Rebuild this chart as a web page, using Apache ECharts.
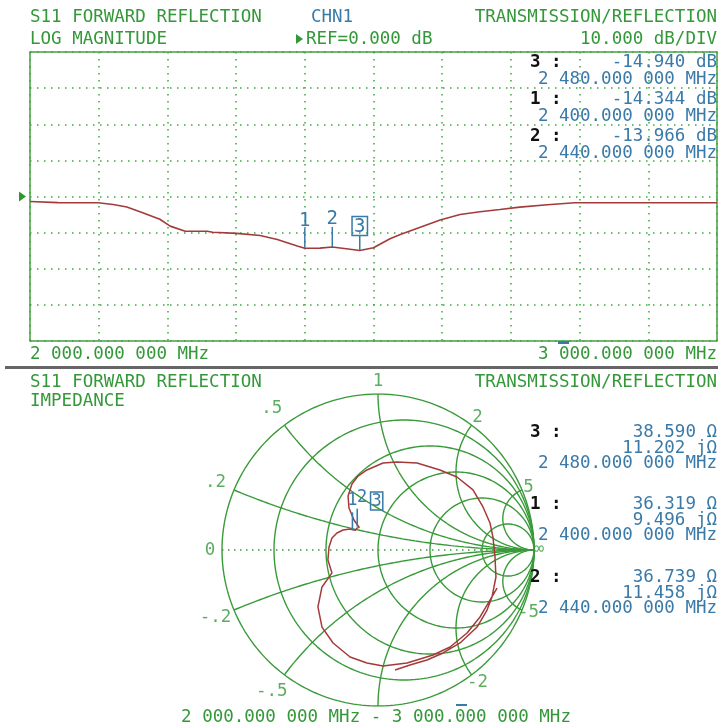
<!DOCTYPE html>
<html><head><meta charset="utf-8">
<script src="https://cdn.jsdelivr.net/npm/echarts@6/dist/echarts.min.js"></script>
<style>html,body{margin:0;padding:0;background:#fff}#c{width:718px;height:727px}</style>
</head><body><div id="c"></div>
<script>
// ---------------- DATA ----------------
// Log-magnitude trace (S11, dB) vs frequency (MHz)
const freqMHz = [2000,2041,2099,2121,2141,2164,2189,2204,2226,2258,2266,2301,2335,2360,2389,2400,2422,2440,2466,2480,2500,2524,2539,2568,2597,2626,2655,2684,2713,2753,2793,3000];
const logMagDb = [-1.4,-1.7,-1.75,-2.2,-2.9,-4.5,-6.3,-8.2,-9.6,-9.6,-9.9,-10.2,-10.8,-11.9,-13.7,-14.344,-14.3,-13.966,-14.6,-14.94,-14.2,-11.7,-10.5,-8.5,-6.5,-5.0,-4.2,-3.6,-2.95,-2.3,-1.75,-1.75];
// Smith chart trace: reflection coefficient (real, imag), 2000 -> 3000 MHz
const gammaRe = [0.763,0.718,0.654,0.571,0.462,0.353,0.186,0.032,-0.071,-0.179,-0.288,-0.359,-0.385,-0.359,-0.295,-0.321,-0.314,-0.295,-0.263,-0.224,-0.179,-0.145,-0.135,-0.133,-0.12,-0.111,-0.154,-0.186,-0.192,-0.167,-0.128,-0.071,0.032,0.122,0.25,0.397,0.506,0.609,0.673,0.718,0.737,0.75,0.756,0.731,0.699,0.635,0.526,0.417,0.314,0.205,0.109];
const gammaIm = [-0.244,-0.321,-0.429,-0.532,-0.622,-0.673,-0.724,-0.744,-0.724,-0.686,-0.596,-0.494,-0.365,-0.237,-0.147,-0.064,0.019,0.077,0.109,0.128,0.135,0.126,0.14,0.150,0.145,0.1405,0.192,0.269,0.346,0.423,0.474,0.513,0.558,0.564,0.558,0.513,0.468,0.385,0.276,0.173,0.083,-0.045,-0.173,-0.301,-0.385,-0.494,-0.596,-0.66,-0.705,-0.737,-0.769];
// Markers
const markerIds = [1, 2, 3];
const markerFreq = [2400, 2440, 2480];
const markerDb = [-14.344, -13.966, -14.940];
const markerR = [36.319, 36.739, 38.590];
const markerX = [9.496, 11.458, 11.202];
const readoutOrder = [3, 1, 2];
const activeMarker = 3;
const Z0 = 50;
// Axis ticks
const freqStart = 2000, freqStop = 3000, freqDiv = 100;
const dbMin = -40, dbMax = 40, dbDiv = 10;
const smithR = [0, 0.2, 0.5, 1, 2, 5];
const smithX = [0.2, 0.5, 1, 2, 5];

// ---------------- STYLE ----------------
const FONT = '"DejaVu Sans Mono", monospace';
const FS = 17.5;
const GREEN_T = '#34983a';
const GREEN_G = '#3aa83a';
const GREEN_S = '#399a39';
const BLUE = '#3a7aa8';
const TRACE = '#a33b3b';
const BLACK = '#111';
const labelGap = {'0.2':20,'0.5':21,'1':13,'2':10,'5':7};

function fmtFreq(mhz){
  const ip = Math.floor(mhz);
  const s = String(ip);
  const g = s.length > 3 ? s.slice(0, s.length-3) + ' ' + s.slice(-3) : s;
  const frac = String(Math.round((mhz-ip)*1e6)).padStart(6,'0');
  return g + '.' + frac.slice(0,3) + ' ' + frac.slice(3) + ' MHz';
}
function zToGamma(r, x){
  const zr = r/Z0, zx = x/Z0;
  const d = (zr+1)*(zr+1) + zx*zx;
  return [((zr-1)*(zr+1) + zx*zx)/d, (2*zx)/d];
}
function tickText(v){
  const a = Math.abs(v);
  return (v<0?'-':'') + (a<1 ? String(a).replace(/^0/,'') : String(a));
}

// Smith grid geometry
const smithSeries = [];
smithR.forEach(r => {
  const c = r/(1+r), a = 1/(1+r), pts = [];
  for (let i=0;i<=240;i++){ const t = i/240*2*Math.PI; pts.push([c + a*Math.cos(t), a*Math.sin(t)]); }
  smithSeries.push(pts);
});
smithX.forEach(xv => {
  [xv, -xv].forEach(x => {
    const pts = [];
    for (let i=0;i<=240;i++){
      const u = i/240*(Math.PI/2)*0.9995; const r = Math.tan(u);
      const d = (r+1)*(r+1) + x*x;
      pts.push([(r*r-1+x*x)/d, 2*x/d]);
    }
    smithSeries.push(pts);
  });
});

const lineBase = {type:'line', symbol:'none', silent:true, animation:false};
const series = [];
series.push(Object.assign({}, lineBase, {
  xAxisIndex:0, yAxisIndex:0, z:5,
  data: freqMHz.map((f,i)=>[f, logMagDb[i]]),
  lineStyle:{color:TRACE, width:1.6}
}));
series.push({
  type:'custom', xAxisIndex:0, yAxisIndex:0, silent:true, z:10, animation:false,
  data: markerIds.map((id,i)=>[markerFreq[i], markerDb[i], id]),
  renderItem(params, api){
    const p = api.coord([api.value(0), api.value(1)]);
    const id = api.value(2);
    const boxed = id === activeMarker;
    const stem = boxed ? 15 : 20;
    const st = {text:String(id), fill:BLUE, font:'19px '+FONT, align:'center', verticalAlign:'bottom'};
    if (boxed){ Object.assign(st, {borderColor:BLUE, borderWidth:1.5, padding:[1,2,-1,2]}); }
    return {type:'group', children:[
      {type:'line', shape:{x1:p[0], y1:p[1], x2:p[0], y2:p[1]-stem}, style:{stroke:BLUE, lineWidth:1.5}},
      {type:'text', x:p[0], y:p[1]-stem+ (boxed?0:2), style:st}
    ]};
  }
});
smithSeries.forEach(pts => series.push(Object.assign({}, lineBase, {
  xAxisIndex:1, yAxisIndex:1, z:2, data: pts, lineStyle:{color:GREEN_S, width:1.4}
})));
series.push(Object.assign({}, lineBase, {
  xAxisIndex:1, yAxisIndex:1, z:2, data:[[-1,0],[1,0]], lineStyle:{color:GREEN_S, width:1.3, type:[1.5,4.5]}
}));
series.push(Object.assign({}, lineBase, {
  xAxisIndex:1, yAxisIndex:1, z:5, data: gammaRe.map((g,i)=>[g, gammaIm[i]]),
  lineStyle:{color:TRACE, width:1.5}
}));
// Smith tick labels
const labelData = [];
smithX.forEach(xv => [xv, -xv].forEach(x => {
  const ang = Math.PI - 2*Math.atan(Math.abs(x));
  const k = 1 + labelGap[String(xv)]/156;
  if (x === -1) return;
  labelData.push({value:[k*Math.cos(ang), (x<0?-1:1)*k*Math.sin(ang)], name: tickText(x)});
}));
labelData.push({value:[-(1+12/156), 0], name:'0'});
labelData.push({value:[1+5/156, 0.005], name:'∞'});
series.push({
  type:'scatter', xAxisIndex:1, yAxisIndex:1, symbolSize:0, silent:true, animation:false, clip:false,
  data: labelData,
  label:{show:true, position:'inside', formatter:p=>p.name, color:GREEN_T, fontFamily:FONT, fontSize:FS}
});
// Smith markers
const smithLabelOff = {1:[-3,-30], 2:[5,-29], 3:[16,-27]};
series.push({
  type:'custom', xAxisIndex:1, yAxisIndex:1, silent:true, z:10, animation:false, clip:false,
  data: markerIds.map((id,i)=>{ const g = zToGamma(markerR[i], markerX[i]); return [g[0], g[1], id]; }),
  renderItem(params, api){
    const p = api.coord([api.value(0), api.value(1)]);
    const id = api.value(2);
    const off = smithLabelOff[id];
    const boxed = id === activeMarker;
    const st = {text:String(id), fill:BLUE, font:'17px '+FONT, align:'center', verticalAlign:'middle'};
    if (boxed){ Object.assign(st, {borderColor:BLUE, borderWidth:1.5, padding:[1,1,0,1]}); }
    const ch = [{type:'text', x:p[0]+off[0], y:p[1]+off[1], style:st}];
    if (!boxed) ch.push({type:'line', shape:{x1:p[0]+(id===1?-3:0), y1:p[1], x2:p[0]+(id===1?-3:0), y2:p[1]-18}, style:{stroke:BLUE, lineWidth:1.6}});
    return {type:'group', children:ch};
  }
});

// ---------------- TEXT / GRAPHIC ----------------
function T(x, y, text, fill, align, extra){
  return Object.assign({type:'text', x, y, silent:true, z:20, style:{text, fill, font:FS+'px '+FONT, align: align||'left', verticalAlign:'middle'}}, extra||{});
}
const graphics = [];
graphics.push(T(30, 17, 'S11 FORWARD REFLECTION', GREEN_T));
graphics.push(T(311, 17, 'CHN1', BLUE));
graphics.push(T(717, 17, 'TRANSMISSION/REFLECTION', GREEN_T, 'right'));
graphics.push(T(30, 39, 'LOG MAGNITUDE', GREEN_T));
graphics.push({type:'polygon', silent:true, shape:{points:[[296,34],[303,39],[296,44]]}, style:{fill:GREEN_T}});
graphics.push(T(306, 39, 'REF=0.000 dB', GREEN_T));
graphics.push(T(717, 39, (dbDiv).toFixed(3)+' dB/DIV', GREEN_T, 'right'));
graphics.push(T(30, 354, fmtFreq(freqStart), GREEN_T));
graphics.push(T(717, 354, fmtFreq(freqStop), GREEN_T, 'right'));
graphics.push({type:'rect', silent:true, shape:{x:558, y:341, width:11, height:3}, style:{fill:BLUE}});
graphics.push({type:'rect', silent:true, shape:{x:5, y:366, width:713, height:3}, style:{fill:'#666'}});
graphics.push(T(30, 382, 'S11 FORWARD REFLECTION', GREEN_T));
graphics.push(T(717, 382, 'TRANSMISSION/REFLECTION', GREEN_T, 'right'));
graphics.push(T(30, 401, 'IMPEDANCE', GREEN_T));
graphics.push(T(376, 717, fmtFreq(freqStart)+' - '+fmtFreq(freqStop), GREEN_T, 'center'));
graphics.push({type:'rect', silent:true, shape:{x:456, y:704, width:11, height:2}, style:{fill:BLUE}});
// readouts
readoutOrder.forEach((id, k) => {
  const i = markerIds.indexOf(id);
  const y1 = 62 + k*37;
  graphics.push(T(530, y1, id+' :', BLACK, 'left', {style:{text:id+' :', fill:BLACK, font:'bold '+FS+'px '+FONT, align:'left', verticalAlign:'middle'}}));
  graphics.push(T(717, y1, markerDb[i].toFixed(3)+' dB', BLUE, 'right'));
  graphics.push(T(717, y1+17, fmtFreq(markerFreq[i]), BLUE, 'right'));
  const y2 = 432 + k*72.5;
  graphics.push(T(530, y2, id+' :', BLACK, 'left', {style:{text:id+' :', fill:BLACK, font:'bold '+FS+'px '+FONT, align:'left', verticalAlign:'middle'}}));
  graphics.push(T(717, y2, markerR[i].toFixed(3)+' Ω', BLUE, 'right'));
  graphics.push(T(717, y2+16, markerX[i].toFixed(3)+' jΩ', BLUE, 'right'));
  graphics.push(T(717, y2+31, fmtFreq(markerFreq[i]), BLUE, 'right'));
});

const splitStyle = {show:true, lineStyle:{color:GREEN_G, width:1.5, type:[1.5,5.5]}};
const option = {
  backgroundColor:'#fff',
  animation:false,
  grid:[
    {left:30, top:52, width:687, height:289, show:true, borderColor:'#46a046', borderWidth:1.5, backgroundColor:'transparent'},
    {left:222, top:394, width:312, height:312}
  ],
  xAxis:[
    {gridIndex:0, type:'value', min:freqStart, max:freqStop, interval:freqDiv, axisLine:{show:false}, axisTick:{show:false}, axisLabel:{show:false}, splitLine:splitStyle},
    {gridIndex:1, type:'value', min:-1, max:1, show:false}
  ],
  yAxis:[
    {gridIndex:0, type:'value', min:dbMin, max:dbMax, interval:dbDiv, axisLine:{show:false}, axisTick:{show:false}, axisLabel:{show:false}, splitLine:splitStyle},
    {gridIndex:1, type:'value', min:-1, max:1, show:false}
  ],
  series,
  graphic: graphics
};
const chart = echarts.init(document.getElementById('c'));
chart.setOption(option);
// reference-level arrow at 0 dB
const yRef = chart.convertToPixel({yAxisIndex:0}, 0);
graphics.push({type:'polygon', silent:true, shape:{points:[[19,yRef-5],[26,yRef],[19,yRef+5]]}, style:{fill:'#2a9a2a'}});
chart.setOption({graphic: graphics});
</script></body></html>
